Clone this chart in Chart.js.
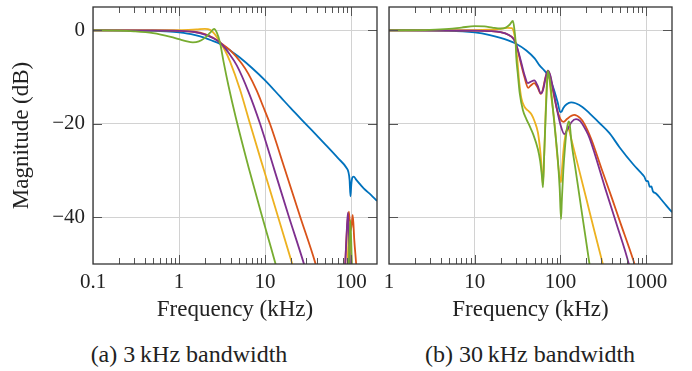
<!DOCTYPE html>
<html>
<head>
<meta charset="utf-8">
<script src="https://cdn.jsdelivr.net/npm/chart.js@4.4.1/dist/chart.umd.min.js"></script>
<style>
  body { margin: 0; background: #fff; }
  #wrap { position: relative; width: 692px; height: 371px; font-family: "Liberation Serif", serif; color: #222; }
  canvas { position: absolute; top: 0; }
  .cap { position: absolute; top: 341px; font-size: 24px; text-align: center; white-space: nowrap; }
</style>
</head>
<body>
<div id="wrap">
  <canvas id="chartA" width="380" height="330" style="left:0"></canvas>
  <canvas id="chartB" width="312" height="330" style="left:380px"></canvas>
  <div class="cap" style="left:0;width:378px">(a) 3&thinsp;kHz bandwidth</div>
  <div class="cap" style="left:380px;width:300px">(b) 30&thinsp;kHz bandwidth</div>
</div>
<script>
// (a) 3 kHz bandwidth: [frequency kHz, magnitude dB]
const a3Blue = [[0.1,0],[0.3,-0.04],[0.5,-0.12],[0.7,-0.23],[1,-0.45],[1.5,-0.95],[2,-1.6],[2.5,-2.3],[3,-2.9],[4,-4.4],[5,-5.7],[7,-8.0],[10,-10.7],[15,-14.2],[20,-16.7],[30,-20.1],[50,-24.4],[70,-27.3],[89,-29.5],[93,-30.3],[96,-32],[98.3,-35.5],[100.5,-33],[103,-31.6],[107,-31.3],[115,-32],[140,-33.8],[170,-35.2],[200,-36.5]];
const a3Orange = [[0.1,0],[0.5,0],[1,-0.08],[1.5,-0.3],[2,-0.8],[2.5,-1.6],[3,-2.6],[4,-4.4],[5.35,-7.1],[6.4,-9.3],[8,-12.9],[9.5,-16.3],[11.4,-20],[16.9,-29.6],[25.7,-40],[38.1,-49.6],[45,-54.5],[60,-62],[82,-58],[85.5,-50],[90,-42],[94.5,-38.8],[98,-43],[101,-42],[104.5,-39.5],[109,-45],[114.5,-50],[120,-56],[200,-70]];
const a3Yellow = [[0.1,0],[1,0.05],[1.6,0.2],[2,0.3],[2.3,0.1],[2.6,-0.8],[3,-2.6],[3.4,-4.2],[3.92,-6.7],[5.12,-12.7],[6.69,-20],[9.66,-29.8],[14.2,-40],[20.4,-49.6],[25,-55],[35,-64],[86,-62],[91,-50],[96,-41],[101,-50],[106,-62],[200,-75]];
const a3Purple = [[0.1,0],[0.5,0],[1,-0.1],[1.5,-0.35],[2,-0.9],[2.5,-1.7],[3,-2.6],[3.8,-4.9],[4.69,-7.5],[6.4,-13.1],[8.75,-20],[12.8,-29.8],[19,-40],[27.9,-49.6],[35,-56],[50,-66],[82,-58],[85,-51],[89,-43],[91.8,-39],[94.5,-44],[97,-50],[100,-57],[200,-75]];
const a3Green = [[0.1,0],[0.2,-0.05],[0.3,-0.2],[0.5,-0.6],[0.8,-1.4],[1,-1.9],[1.2,-2.3],[1.45,-2.55],[1.7,-2.35],[2,-1.6],[2.3,-0.5],[2.55,0.3],[2.75,-0.5],[3,-2.7],[3.3,-6.8],[3.75,-11.8],[4.56,-18.6],[6.45,-29.4],[9,-39.1],[13.1,-49.7],[16,-56],[25,-68],[90,-62],[94,-50],[98,-40.6],[102,-50],[106,-62],[200,-75]];

// (b) 30 kHz bandwidth
const b30Blue = [[1,0],[5,-0.1],[10,-0.45],[15,-1.0],[20,-1.6],[25,-2.2],[30,-2.8],[40,-4.3],[50,-6.0],[57,-7.5],[65,-8.6],[72,-9.7],[80,-11.6],[86,-13.3],[93,-15.5],[99.4,-17.5],[103,-17.4],[108,-16.6],[118,-15.8],[133,-15.4],[150,-15.6],[180,-16.4],[220,-17.8],[280,-19.7],[373,-22],[488,-25],[700,-28.6],[850,-30.3],[950,-31.3],[1000,-32.2],[1050,-32.3],[1100,-33.5],[1150,-33.4],[1200,-34.5],[1300,-34.9],[1500,-36.2],[1700,-37.4],[2000,-38.9]];
const b30Orange = [[1,0],[10,-0.05],[15,-0.15],[20,-0.4],[25,-1.0],[28,-1.7],[30,-2.7],[32,-4.5],[35,-7.5],[38,-10],[42,-12.3],[45,-11.8],[49.5,-11.3],[54,-12.2],[59,-13.6],[62,-12.8],[66,-10.5],[71.3,-8.6],[76,-9.8],[82,-13],[90,-16.5],[100,-19],[109,-19.6],[120,-18.9],[145,-18.1],[170,-18.8],[190,-20],[228,-23.2],[300,-29.5],[400,-36],[500,-41.2],[640,-46.8],[731,-50],[850,-54]];
const b30Yellow = [[1,0],[10,0.05],[15,0.15],[20,0.3],[24,0.55],[27,0.5],[28.5,-0.3],[30,-2.6],[31.5,-6.5],[33,-11],[35,-14.5],[38.2,-16.4],[42,-17.2],[46,-18],[50,-19.5],[54.5,-21.8],[57.5,-25],[59.7,-28.2],[62.3,-33],[64.5,-27],[67,-18],[69.5,-11],[71.3,-8.6],[75,-11],[78,-14],[85,-19.5],[92,-27],[98,-31.5],[101.5,-32.5],[104,-30],[108,-26],[114,-22.5],[120,-21],[125,-21.2],[133.6,-23.2],[160,-28.9],[200,-36],[250,-43.1],[312,-50],[360,-54.5]];
const b30Purple = [[1,0],[10,-0.05],[15,-0.15],[20,-0.4],[25,-1.0],[28,-1.7],[30,-2.7],[32,-4.3],[35,-7],[38,-9.5],[41.7,-11.3],[45,-11],[49.5,-10.7],[54,-11.8],[59,-13.5],[63,-12.6],[67,-10.2],[71.5,-8.6],[76,-9.6],[82,-12.5],[90,-16.5],[100,-20.2],[111,-22.2],[120,-21.3],[135,-19.6],[152,-19],[170,-19.4],[200,-21.5],[218,-23],[250,-26.3],[330,-33.6],[450,-41.4],[627,-50],[720,-55]];
const b30Green = [[1,0],[3,0.1],[5,0.3],[7,0.6],[10,0.9],[13,0.85],[16,0.6],[20,0.4],[23,0.6],[25.5,1.2],[27.9,2.0],[29.1,0],[30,-2.6],[30.5,-5.7],[31.8,-9.3],[33.5,-13.5],[36.5,-17.1],[40,-19],[43.5,-20.4],[48,-22.2],[54.5,-25.4],[58,-28],[61,-31.5],[62.5,-33.6],[64.5,-27],[67,-19],[69.5,-12],[71.3,-8.7],[75,-10.5],[78,-13.2],[85.3,-20.4],[93,-27.5],[98,-34],[101.5,-40.4],[104,-36],[108,-30],[113,-25],[119,-21],[125,-19.5],[129,-20.5],[133.6,-23.5],[150,-29.8],[180,-39.7],[218,-50],[250,-58]];

const yTicks = [0, -20, -40];
const decadeLabels = { 0.1: '0.1', 1: '1', 10: '10', 100: '100', 1000: '1000' };

const BLUE = '#0072BD', ORANGE = '#D95319', YELLOW = '#EDB120', PURPLE = '#7E2F8E', GREEN = '#77AC30';
const GRID = '#d2d2d2';

Chart.defaults.font.family = '"Liberation Serif", serif';
Chart.defaults.color = '#222';

function isDecade(v) {
  const l = Math.log10(v);
  return Math.abs(l - Math.round(l)) < 1e-6;
}
function isWholeStep(v) {
  const e = Math.floor(Math.log10(v) + 1e-9);
  const m = v / Math.pow(10, e);
  return Math.abs(m - Math.round(m)) < 1e-6;
}

// pgfplots style frame with inward ticks on all four sides
const frameTicks = {
  id: 'frameTicks',
  afterDraw(chart) {
    const { ctx, chartArea: a } = chart;
    const x = chart.scales.x, y = chart.scales.y;
    ctx.save();
    ctx.strokeStyle = '#555';
    ctx.lineWidth = 1;
    ctx.beginPath();
    x.ticks.forEach(t => {
      if (!isWholeStep(t.value)) return;
      const px = Math.round(x.getPixelForValue(t.value)) + 0.5;
      if (px < a.left + 2 || px > a.right - 2) return;
      const len = isDecade(t.value) ? 9 : 6;
      ctx.moveTo(px, a.bottom); ctx.lineTo(px, a.bottom - len);
      ctx.moveTo(px, a.top); ctx.lineTo(px, a.top + len);
    });
    y.ticks.forEach(t => {
      const py = Math.round(y.getPixelForValue(t.value)) + 0.5;
      ctx.moveTo(a.left, py); ctx.lineTo(a.left + 9, py);
      ctx.moveTo(a.right, py); ctx.lineTo(a.right - 9, py);
    });
    ctx.stroke();
    ctx.strokeStyle = '#333';
    ctx.lineWidth = 1.3;
    ctx.strokeRect(a.left, a.top, a.right - a.left, a.bottom - a.top);
    ctx.restore();
  }
};

function lines(list) {
  return list.map(([pts, color, order]) => ({
    data: pts.map(p => ({ x: p[0], y: p[1] })),
    borderColor: color,
    borderWidth: 1.8,
    pointRadius: 0,
    fill: false,
    cubicInterpolationMode: 'monotone',
    order: order
  }));
}

function config(datasets, xMin, xMax, leftAxis, yWidth, padRight) {
  return {
    type: 'line',
    data: { datasets: datasets },
    options: {
      responsive: false,
      animation: false,
      events: [],
      layout: { padding: { top: 7, right: padRight, left: 0, bottom: 0 } },
      plugins: { legend: { display: false }, tooltip: { enabled: false } },
      scales: {
        x: {
          type: 'logarithmic',
          min: xMin,
          max: xMax,
          border: { display: false },
          grid: { drawTicks: false, color: c => isDecade(c.tick.value) ? GRID : 'rgba(0,0,0,0)' },
          ticks: {
            autoSkip: false, maxRotation: 0, padding: 6, font: { size: 21 },
            callback: v => isDecade(v) ? (decadeLabels[+v.toPrecision(3)] || '') : ''
          },
          title: { display: true, text: 'Frequency (kHz)', font: { size: 23 }, padding: { bottom: 6 } },
          afterFit: s => { s.height = 66; s.paddingLeft = 0; s.paddingRight = 0; }
        },
        y: {
          min: -50,
          max: 5,
          border: { display: false },
          grid: { drawTicks: false, color: c => yTicks.includes(c.tick.value) ? GRID : 'rgba(0,0,0,0)' },
          ticks: {
            display: leftAxis, stepSize: 20, includeBounds: false, padding: 8, font: { size: 21 },
            callback: v => v === 0 ? '0' : '\u2212' + Math.abs(v)
          },
          title: { display: leftAxis, text: 'Magnitude (dB)', font: { size: 23 }, padding: { top: 8 } },
          afterFit: s => { s.width = yWidth; s.paddingTop = 0; s.paddingBottom = 0; }
        }
      }
    },
    plugins: [frameTicks]
  };
}

new Chart(document.getElementById('chartA'), config(lines([
  [a3Blue, BLUE, 4], [a3Orange, ORANGE, 3], [a3Yellow, YELLOW, 2], [a3Purple, PURPLE, 1], [a3Green, GREEN, 0]
]), 0.1, 200, true, 93, 3));

new Chart(document.getElementById('chartB'), config(lines([
  [b30Blue, BLUE, 4], [b30Orange, ORANGE, 3], [b30Yellow, YELLOW, 2], [b30Purple, PURPLE, 1], [b30Green, GREEN, 0]
]), 1, 2000, false, 9, 20));
</script>
</body>
</html>
